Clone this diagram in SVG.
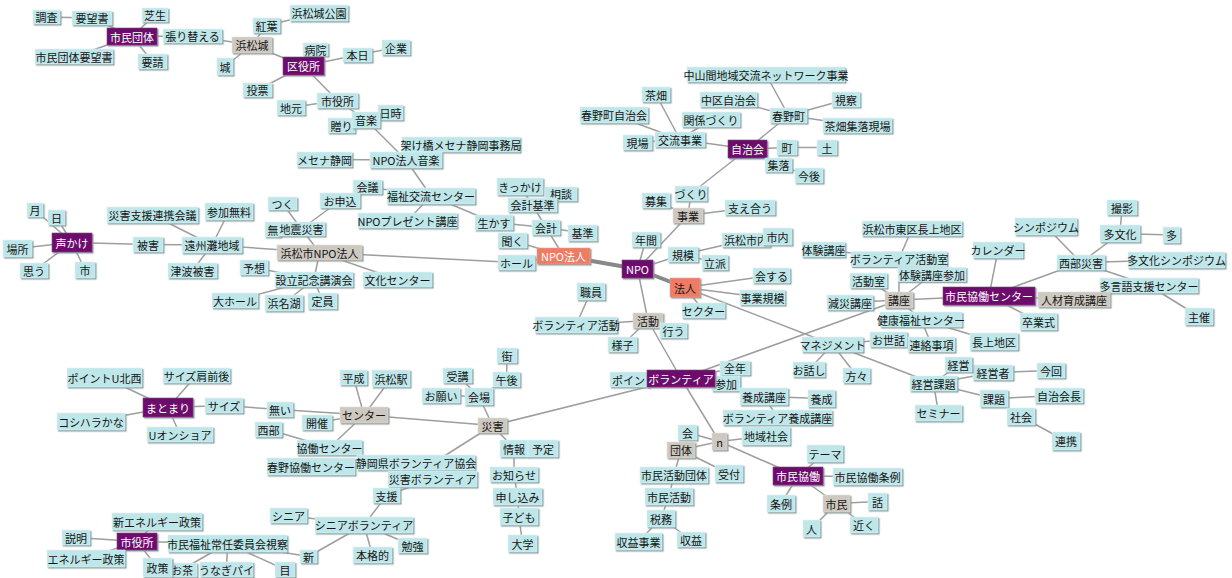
<svg xmlns="http://www.w3.org/2000/svg" width="1232" height="578" viewBox="0 0 1232 578">
<defs>
<filter id="sh" x="-10%" y="-20%" width="130%" height="160%"><feDropShadow dx="1.3" dy="1.3" stdDeviation="0.3" flood-color="#8a9899"/></filter>
<style>
rect{filter:url(#sh);stroke:#d8f2f3;stroke-width:0.6}
.c rect{fill:#bfe7ea}
.p rect{fill:#6c0d6c;stroke:#8a3a8a}
.s rect{fill:#ec7c64;stroke:#f4a090}
.g rect{fill:#cdc8c0;stroke:#e2ded8}
text{font-family:"Noto Sans CJK JP","Noto Sans CJK SC",sans-serif;font-size:11px;text-anchor:middle;dominant-baseline:central;fill:#151515}
.p text{fill:#ffffff}
.s text.w{fill:#ffffff}
#edges line{stroke:#9e9e9e;stroke-width:1.5}
#edges line.t{stroke:#888888;stroke-width:4}
</style>
</defs>
<rect x="0" y="0" width="1232" height="578" fill="#ffffff" style="filter:none;stroke:none"/>
<g id="edges">
<line x1="46.5" y1="17" x2="92" y2="18"/>
<line x1="92" y1="18" x2="132" y2="36.5"/>
<line x1="155" y1="15" x2="132" y2="36.5"/>
<line x1="132" y1="36.5" x2="192.5" y2="36"/>
<line x1="132" y1="36.5" x2="74" y2="56.5"/>
<line x1="132" y1="36.5" x2="152.5" y2="61.5"/>
<line x1="192.5" y1="36" x2="252" y2="45"/>
<line x1="252" y1="45" x2="266.5" y2="25.5"/>
<line x1="266.5" y1="25.5" x2="319" y2="13"/>
<line x1="252" y1="45" x2="225" y2="66.5"/>
<line x1="252" y1="45" x2="303.5" y2="66"/>
<line x1="303.5" y1="66" x2="315.5" y2="49.5"/>
<line x1="303.5" y1="66" x2="357.5" y2="55"/>
<line x1="357.5" y1="55" x2="396" y2="47.5"/>
<line x1="303.5" y1="66" x2="257.5" y2="90"/>
<line x1="303.5" y1="66" x2="337.5" y2="100.5"/>
<line x1="291" y1="107.5" x2="337.5" y2="100.5"/>
<line x1="337.5" y1="100.5" x2="366" y2="120"/>
<line x1="390.5" y1="112.5" x2="366" y2="120"/>
<line x1="341.5" y1="125.5" x2="366" y2="120"/>
<line x1="366" y1="120" x2="406" y2="160"/>
<line x1="461" y1="144.5" x2="406" y2="160"/>
<line x1="324.5" y1="159.5" x2="406" y2="160"/>
<line x1="406" y1="160" x2="431" y2="196"/>
<line x1="367.5" y1="187" x2="431" y2="196"/>
<line x1="340" y1="200.5" x2="301.5" y2="229"/>
<line x1="431" y1="196" x2="407.5" y2="220.5"/>
<line x1="431" y1="196" x2="494" y2="222.5"/>
<line x1="494" y1="222.5" x2="546" y2="227.5"/>
<line x1="520" y1="186.5" x2="532.5" y2="205"/>
<line x1="561" y1="194" x2="532.5" y2="205"/>
<line x1="532.5" y1="205" x2="546" y2="227.5"/>
<line x1="582.5" y1="233" x2="546" y2="227.5"/>
<line x1="546" y1="227.5" x2="563.5" y2="256"/>
<line x1="512.5" y1="240.5" x2="563.5" y2="256"/>
<line x1="516.5" y1="262.5" x2="563.5" y2="256"/>
<line x1="319.5" y1="252.5" x2="516.5" y2="262.5"/>
<line x1="319.5" y1="252.5" x2="301.5" y2="229"/>
<line x1="282.5" y1="203.5" x2="301.5" y2="229"/>
<line x1="319.5" y1="252.5" x2="212" y2="245"/>
<line x1="319.5" y1="252.5" x2="314" y2="279.5"/>
<line x1="319.5" y1="252.5" x2="397.5" y2="279.5"/>
<line x1="314" y1="279.5" x2="254" y2="267.5"/>
<line x1="314" y1="279.5" x2="235" y2="300.5"/>
<line x1="314" y1="279.5" x2="284" y2="303"/>
<line x1="314" y1="279.5" x2="322.5" y2="301"/>
<line x1="212" y1="245" x2="148" y2="244.5"/>
<line x1="212" y1="245" x2="152.5" y2="215"/>
<line x1="212" y1="245" x2="229" y2="211.5"/>
<line x1="212" y1="245" x2="192.5" y2="270.5"/>
<line x1="148" y1="244.5" x2="72" y2="242.5"/>
<line x1="72" y1="242.5" x2="35" y2="210"/>
<line x1="72" y1="242.5" x2="56.5" y2="217.5"/>
<line x1="72" y1="242.5" x2="17.5" y2="248.5"/>
<line x1="72" y1="242.5" x2="34" y2="270.5"/>
<line x1="72" y1="242.5" x2="85" y2="270"/>
<line class="t" x1="563.5" y1="256" x2="637.5" y2="269"/>
<line class="t" x1="637.5" y1="269" x2="685" y2="287.5"/>
<line x1="637.5" y1="269" x2="683" y2="254.5"/>
<line x1="637.5" y1="269" x2="646" y2="239.5"/>
<line x1="637.5" y1="269" x2="688" y2="215.5"/>
<line x1="688" y1="215.5" x2="691" y2="193.5"/>
<line x1="688" y1="215.5" x2="656" y2="200.5"/>
<line x1="688" y1="215.5" x2="750" y2="207.5"/>
<line x1="691" y1="193.5" x2="747.5" y2="149"/>
<line x1="747.5" y1="149" x2="680" y2="139.5"/>
<line x1="747.5" y1="149" x2="788.5" y2="115.5"/>
<line x1="747.5" y1="149" x2="787" y2="147.5"/>
<line x1="747.5" y1="149" x2="778.5" y2="165"/>
<line x1="787" y1="147.5" x2="827" y2="147.5"/>
<line x1="778.5" y1="165" x2="809" y2="175.5"/>
<line x1="788.5" y1="115.5" x2="766" y2="74.5"/>
<line x1="788.5" y1="115.5" x2="728.5" y2="99.5"/>
<line x1="788.5" y1="115.5" x2="846" y2="99.5"/>
<line x1="788.5" y1="115.5" x2="857.5" y2="125.5"/>
<line x1="680" y1="139.5" x2="656" y2="94.5"/>
<line x1="680" y1="139.5" x2="614" y2="115"/>
<line x1="680" y1="139.5" x2="711" y2="119.5"/>
<line x1="680" y1="139.5" x2="637.5" y2="142.5"/>
<line x1="683" y1="254.5" x2="746" y2="240"/>
<line x1="683" y1="254.5" x2="715" y2="262.5"/>
<line x1="685" y1="287.5" x2="771.5" y2="275.5"/>
<line x1="685" y1="287.5" x2="762.5" y2="297.5"/>
<line x1="685" y1="287.5" x2="703.5" y2="310.5"/>
<line x1="685" y1="287.5" x2="832.5" y2="344.5"/>
<line x1="637.5" y1="269" x2="648" y2="320.5"/>
<line x1="648" y1="320.5" x2="681" y2="378.5"/>
<line x1="648" y1="320.5" x2="576" y2="325"/>
<line x1="591" y1="291.5" x2="576" y2="325"/>
<line x1="648" y1="320.5" x2="622.5" y2="344.5"/>
<line x1="648" y1="320.5" x2="673.5" y2="330.5"/>
<line x1="681" y1="378.5" x2="629" y2="379.5"/>
<line x1="681" y1="378.5" x2="735" y2="368"/>
<line x1="681" y1="378.5" x2="726" y2="384"/>
<line x1="681" y1="378.5" x2="492.5" y2="425.5"/>
<line x1="681" y1="378.5" x2="899" y2="300"/>
<line x1="681" y1="378.5" x2="719.5" y2="441.5"/>
<line x1="832.5" y1="344.5" x2="888.5" y2="339.5"/>
<line x1="832.5" y1="344.5" x2="809" y2="369.5"/>
<line x1="832.5" y1="344.5" x2="856.5" y2="375.5"/>
<line x1="832.5" y1="344.5" x2="933.5" y2="383.5"/>
<line x1="933.5" y1="383.5" x2="958.5" y2="364.5"/>
<line x1="933.5" y1="383.5" x2="993" y2="372.5"/>
<line x1="993" y1="372.5" x2="1051" y2="370.5"/>
<line x1="933.5" y1="383.5" x2="994" y2="398.5"/>
<line x1="933.5" y1="383.5" x2="938.5" y2="413"/>
<line x1="994" y1="398.5" x2="1059" y2="395.5"/>
<line x1="994" y1="398.5" x2="1021" y2="416.5"/>
<line x1="1021" y1="416.5" x2="1066" y2="441"/>
<line x1="899" y1="300" x2="850" y2="302.5"/>
<line x1="899" y1="300" x2="868.5" y2="280.5"/>
<line x1="899" y1="300" x2="899" y2="259"/>
<line x1="899" y1="300" x2="932" y2="274.5"/>
<line x1="899" y1="300" x2="921" y2="319.5"/>
<line x1="899" y1="300" x2="989" y2="296"/>
<line x1="899" y1="259" x2="912" y2="228.5"/>
<line x1="899" y1="259" x2="823.5" y2="249.5"/>
<line x1="921" y1="319.5" x2="994" y2="341.5"/>
<line x1="921" y1="319.5" x2="931.5" y2="344.5"/>
<line x1="989" y1="296" x2="998" y2="250"/>
<line x1="989" y1="296" x2="1081" y2="262.5"/>
<line x1="989" y1="296" x2="1074" y2="299.5"/>
<line x1="989" y1="296" x2="1038.5" y2="321.5"/>
<line x1="1081" y1="262.5" x2="1046" y2="226.5"/>
<line x1="1081" y1="262.5" x2="1120" y2="233.5"/>
<line x1="1081" y1="262.5" x2="1176.5" y2="260"/>
<line x1="1081" y1="262.5" x2="1149" y2="285.5"/>
<line x1="1149" y1="285.5" x2="1199" y2="316.5"/>
<line x1="1120" y1="233.5" x2="1122" y2="207.5"/>
<line x1="1120" y1="233.5" x2="1171.5" y2="235"/>
<line x1="492.5" y1="425.5" x2="364" y2="415"/>
<line x1="492.5" y1="425.5" x2="479" y2="396.5"/>
<line x1="492.5" y1="425.5" x2="438" y2="460"/>
<line x1="492.5" y1="425.5" x2="514" y2="448.5"/>
<line x1="479" y1="396.5" x2="441" y2="395.5"/>
<line x1="479" y1="396.5" x2="457.5" y2="375.5"/>
<line x1="479" y1="396.5" x2="506.5" y2="379.5"/>
<line x1="506.5" y1="379.5" x2="507" y2="355.5"/>
<line x1="514" y1="448.5" x2="543" y2="448.5"/>
<line x1="514" y1="448.5" x2="514" y2="474.5"/>
<line x1="514" y1="474.5" x2="517.5" y2="496.5"/>
<line x1="517.5" y1="496.5" x2="519" y2="516.5"/>
<line x1="519" y1="516.5" x2="522.5" y2="543.5"/>
<line x1="364" y1="415" x2="353.5" y2="377.5"/>
<line x1="364" y1="415" x2="391" y2="378.5"/>
<line x1="364" y1="415" x2="317" y2="422.5"/>
<line x1="364" y1="415" x2="329.5" y2="447.5"/>
<line x1="364" y1="415" x2="280" y2="409.5"/>
<line x1="280" y1="409.5" x2="224" y2="405.5"/>
<line x1="224" y1="405.5" x2="168" y2="407.5"/>
<line x1="168" y1="407.5" x2="104.5" y2="377.5"/>
<line x1="168" y1="407.5" x2="196.5" y2="375.5"/>
<line x1="168" y1="407.5" x2="91" y2="421.5"/>
<line x1="168" y1="407.5" x2="180" y2="434.5"/>
<line x1="268.5" y1="429.5" x2="329.5" y2="447.5"/>
<line x1="432.5" y1="479" x2="386.5" y2="495.5"/>
<line x1="386.5" y1="495.5" x2="364" y2="525"/>
<line x1="364" y1="525" x2="288.5" y2="515.5"/>
<line x1="364" y1="525" x2="308.5" y2="556.5"/>
<line x1="364" y1="525" x2="372.5" y2="555"/>
<line x1="364" y1="525" x2="412.5" y2="545.5"/>
<line x1="308.5" y1="556.5" x2="227.5" y2="543.5"/>
<line x1="227.5" y1="543.5" x2="137" y2="541.5"/>
<line x1="227.5" y1="543.5" x2="181" y2="570"/>
<line x1="227.5" y1="543.5" x2="226.5" y2="569.5"/>
<line x1="227.5" y1="543.5" x2="285" y2="569.5"/>
<line x1="137" y1="541.5" x2="157" y2="521.5"/>
<line x1="137" y1="541.5" x2="76" y2="537.5"/>
<line x1="137" y1="541.5" x2="86" y2="558.5"/>
<line x1="137" y1="541.5" x2="157.5" y2="567.5"/>
<line x1="719.5" y1="441.5" x2="687.5" y2="432.5"/>
<line x1="719.5" y1="441.5" x2="681" y2="450"/>
<line x1="719.5" y1="441.5" x2="766" y2="436"/>
<line x1="719.5" y1="441.5" x2="798" y2="476"/>
<line x1="681" y1="450" x2="674" y2="475"/>
<line x1="681" y1="450" x2="729" y2="473.5"/>
<line x1="674" y1="475" x2="669" y2="496.5"/>
<line x1="669" y1="496.5" x2="661" y2="518.5"/>
<line x1="661" y1="518.5" x2="638.5" y2="541.5"/>
<line x1="661" y1="518.5" x2="691" y2="539.5"/>
<line x1="798" y1="476" x2="825" y2="453.5"/>
<line x1="798" y1="476" x2="867.5" y2="476.5"/>
<line x1="798" y1="476" x2="781" y2="503.5"/>
<line x1="798" y1="476" x2="836.5" y2="503.5"/>
<line x1="836.5" y1="503.5" x2="877.5" y2="501.5"/>
<line x1="836.5" y1="503.5" x2="811.5" y2="528.5"/>
<line x1="836.5" y1="503.5" x2="864" y2="525"/>
<line x1="764" y1="396.5" x2="821.5" y2="398.5"/>
<line x1="764" y1="396.5" x2="777.5" y2="417.5"/>
</g>
<g id="n1" class="c"><rect x="33" y="10" width="27" height="14"/><text x="46.5" y="17">調査</text></g>
<g id="n2" class="c"><rect x="72" y="11" width="40" height="14"/><text x="92" y="18">要望書</text></g>
<g id="n3" class="c"><rect x="142" y="8" width="26" height="14"/><text x="155" y="15">芝生</text></g>
<g id="n4" class="p"><rect x="107" y="28" width="50" height="17"/><text x="132" y="36.5">市民団体</text></g>
<g id="n5" class="c"><rect x="163" y="29" width="59" height="14"/><text x="192.5" y="36">張り替える</text></g>
<g id="n6" class="c"><rect x="35" y="49" width="78" height="15"/><text x="74" y="56.5">市民団体要望書</text></g>
<g id="n7" class="c"><rect x="138" y="54" width="29" height="15"/><text x="152.5" y="61.5">要請</text></g>
<g id="n8" class="g"><rect x="232" y="37" width="40" height="16"/><text x="252" y="45">浜松城</text></g>
<g id="n9" class="c"><rect x="253" y="18" width="27" height="15"/><text x="266.5" y="25.5">紅葉</text></g>
<g id="n10" class="c"><rect x="290" y="5" width="58" height="16"/><text x="319" y="13">浜松城公園</text></g>
<g id="n11" class="c"><rect x="217" y="58" width="16" height="17"/><text x="225" y="66.5">城</text></g>
<g id="n13" class="c"><rect x="303" y="43" width="25" height="13"/><text x="315.5" y="49.5">病院</text></g>
<g id="n12" class="p"><rect x="283" y="57" width="41" height="18"/><text x="303.5" y="66">区役所</text></g>
<g id="n14" class="c"><rect x="343" y="48" width="29" height="14"/><text x="357.5" y="55">本日</text></g>
<g id="n15" class="c"><rect x="382" y="40" width="28" height="15"/><text x="396" y="47.5">企業</text></g>
<g id="n16" class="c"><rect x="243" y="83" width="29" height="14"/><text x="257.5" y="90">投票</text></g>
<g id="n17" class="c"><rect x="277" y="100" width="28" height="15"/><text x="291" y="107.5">地元</text></g>
<g id="n18" class="c"><rect x="317" y="93" width="41" height="15"/><text x="337.5" y="100.5">市役所</text></g>
<g id="n19" class="c"><rect x="378" y="105" width="25" height="15"/><text x="390.5" y="112.5">日時</text></g>
<g id="n21" class="c"><rect x="328" y="118" width="27" height="15"/><text x="341.5" y="125.5">贈り</text></g>
<g id="n20" class="c"><rect x="352" y="112" width="28" height="16"/><text x="366" y="120">音楽</text></g>
<g id="n22" class="c"><rect x="402" y="137" width="118" height="15"/><text x="461" y="144.5">架け橋メセナ静岡事務局</text></g>
<g id="n23" class="c"><rect x="297" y="152" width="55" height="15"/><text x="324.5" y="159.5">メセナ静岡</text></g>
<g id="n24" class="c"><rect x="370" y="152" width="72" height="16"/><text x="406" y="160">NPO法人音楽</text></g>
<g id="n25" class="c"><rect x="353" y="180" width="29" height="14"/><text x="367.5" y="187">会議</text></g>
<g id="n26" class="c"><rect x="387" y="188" width="88" height="16"/><text x="431" y="196">福祉交流センター</text></g>
<g id="n27" class="c"><rect x="497" y="178" width="46" height="17"/><text x="520" y="186.5">きっかけ</text></g>
<g id="n28" class="c"><rect x="545" y="187" width="32" height="14"/><text x="561" y="194">相談</text></g>
<g id="n29" class="c"><rect x="508" y="198" width="49" height="14"/><text x="532.5" y="205">会計基準</text></g>
<g id="n30" class="c"><rect x="320" y="193" width="40" height="15"/><text x="340" y="200.5">お申込</text></g>
<g id="n31" class="c"><rect x="358" y="213" width="99" height="15"/><text x="407.5" y="220.5">NPOプレゼント講座</text></g>
<g id="n32" class="c"><rect x="475" y="215" width="38" height="15"/><text x="494" y="222.5">生かす</text></g>
<g id="n33" class="c"><rect x="532" y="220" width="28" height="15"/><text x="546" y="227.5">会計</text></g>
<g id="n34" class="c"><rect x="568" y="225" width="29" height="16"/><text x="582.5" y="233">基準</text></g>
<g id="n35" class="c"><rect x="498" y="233" width="29" height="15"/><text x="512.5" y="240.5">聞く</text></g>
<g id="n36" class="c"><rect x="498" y="255" width="37" height="15"/><text x="516.5" y="262.5">ホール</text></g>
<g id="n37" class="s"><rect x="537" y="248" width="53" height="16"/><text class="w" x="563.5" y="256">NPO法人</text></g>
<g id="n38" class="c"><rect x="268" y="197" width="29" height="13"/><text x="282.5" y="203.5">つく</text></g>
<g id="n39" class="c"><rect x="265" y="222" width="16" height="15"/><text x="273" y="229.5">無</text></g>
<g id="n40" class="c"><rect x="278" y="222" width="47" height="14"/><text x="301.5" y="229">地震災害</text></g>
<g id="n41" class="g"><rect x="277" y="245" width="85" height="15"/><text x="319.5" y="252.5">浜松市NPO法人</text></g>
<g id="n42" class="c"><rect x="240" y="260" width="28" height="15"/><text x="254" y="267.5">予想</text></g>
<g id="n43" class="c"><rect x="275" y="272" width="78" height="15"/><text x="314" y="279.5">設立記念講演会</text></g>
<g id="n44" class="c"><rect x="212" y="293" width="46" height="15"/><text x="235" y="300.5">大ホール</text></g>
<g id="n45" class="c"><rect x="265" y="295" width="38" height="16"/><text x="284" y="303">浜名湖</text></g>
<g id="n46" class="c"><rect x="308" y="293" width="29" height="16"/><text x="322.5" y="301">定員</text></g>
<g id="n47" class="c"><rect x="363" y="272" width="69" height="15"/><text x="397.5" y="279.5">文化センター</text></g>
<g id="n48" class="c"><rect x="27" y="203" width="16" height="14"/><text x="35" y="210">月</text></g>
<g id="n49" class="c"><rect x="48" y="210" width="17" height="15"/><text x="56.5" y="217.5">日</text></g>
<g id="n50" class="p"><rect x="52" y="233" width="40" height="19"/><text x="72" y="242.5">声かけ</text></g>
<g id="n51" class="c"><rect x="3" y="240" width="29" height="17"/><text x="17.5" y="248.5">場所</text></g>
<g id="n52" class="c"><rect x="20" y="263" width="28" height="15"/><text x="34" y="270.5">思う</text></g>
<g id="n53" class="c"><rect x="75" y="262" width="20" height="16"/><text x="85" y="270">市</text></g>
<g id="n54" class="c"><rect x="107" y="207" width="91" height="16"/><text x="152.5" y="215">災害支援連携会議</text></g>
<g id="n55" class="c"><rect x="205" y="203" width="48" height="17"/><text x="229" y="211.5">参加無料</text></g>
<g id="n56" class="c"><rect x="133" y="237" width="30" height="15"/><text x="148" y="244.5">被害</text></g>
<g id="n57" class="c"><rect x="182" y="237" width="60" height="16"/><text x="212" y="245">遠州灘地域</text></g>
<g id="n58" class="c"><rect x="168" y="263" width="49" height="15"/><text x="192.5" y="270.5">津波被害</text></g>
<g id="n59" class="c"><rect x="687" y="67" width="158" height="15"/><text x="766" y="74.5">中山間地域交流ネットワーク事業</text></g>
<g id="n60" class="c"><rect x="642" y="87" width="28" height="15"/><text x="656" y="94.5">茶畑</text></g>
<g id="n61" class="c"><rect x="700" y="92" width="57" height="15"/><text x="728.5" y="99.5">中区自治会</text></g>
<g id="n62" class="c"><rect x="832" y="92" width="28" height="15"/><text x="846" y="99.5">視察</text></g>
<g id="n63" class="c"><rect x="580" y="107" width="68" height="16"/><text x="614" y="115">春野町自治会</text></g>
<g id="n64" class="c"><rect x="682" y="112" width="58" height="15"/><text x="711" y="119.5">関係づくり</text></g>
<g id="n65" class="c"><rect x="770" y="108" width="37" height="15"/><text x="788.5" y="115.5">春野町</text></g>
<g id="n66" class="c"><rect x="823" y="118" width="69" height="15"/><text x="857.5" y="125.5">茶畑集落現場</text></g>
<g id="n67" class="c"><rect x="623" y="135" width="29" height="15"/><text x="637.5" y="142.5">現場</text></g>
<g id="n68" class="c"><rect x="655" y="132" width="50" height="15"/><text x="680" y="139.5">交流事業</text></g>
<g id="n69" class="p"><rect x="728" y="140" width="39" height="18"/><text x="747.5" y="149">自治会</text></g>
<g id="n70" class="c"><rect x="777" y="140" width="20" height="15"/><text x="787" y="147.5">町</text></g>
<g id="n71" class="c"><rect x="817" y="140" width="20" height="15"/><text x="827" y="147.5">土</text></g>
<g id="n72" class="c"><rect x="765" y="158" width="27" height="14"/><text x="778.5" y="165">集落</text></g>
<g id="n73" class="c"><rect x="795" y="168" width="28" height="15"/><text x="809" y="175.5">今後</text></g>
<g id="n74" class="c"><rect x="675" y="186" width="32" height="15"/><text x="691" y="193.5">づくり</text></g>
<g id="n75" class="c"><rect x="642" y="193" width="28" height="15"/><text x="656" y="200.5">募集</text></g>
<g id="n76" class="g"><rect x="673" y="208" width="30" height="15"/><text x="688" y="215.5">事業</text></g>
<g id="n77" class="c"><rect x="725" y="200" width="50" height="15"/><text x="750" y="207.5">支え合う</text></g>
<g id="n78" class="c"><rect x="632" y="232" width="28" height="15"/><text x="646" y="239.5">年間</text></g>
<g id="n79" class="c"><rect x="668" y="247" width="30" height="15"/><text x="683" y="254.5">規模</text></g>
<g id="n80" class="c"><rect x="722" y="233" width="48" height="14"/><text x="746" y="240">浜松市内</text></g>
<g id="n81" class="c"><rect x="763" y="228" width="29" height="17"/><text x="777.5" y="236.5">市内</text></g>
<g id="n82" class="c"><rect x="702" y="255" width="26" height="15"/><text x="715" y="262.5">立派</text></g>
<g id="n83" class="p"><rect x="622" y="260" width="31" height="18"/><text x="637.5" y="269">NPO</text></g>
<g id="n84" class="s"><rect x="670" y="278" width="30" height="19"/><text x="685" y="287.5">法人</text></g>
<g id="n85" class="c"><rect x="753" y="268" width="37" height="15"/><text x="771.5" y="275.5">会する</text></g>
<g id="n86" class="c"><rect x="740" y="290" width="45" height="15"/><text x="762.5" y="297.5">事業規模</text></g>
<g id="n87" class="c"><rect x="682" y="303" width="43" height="15"/><text x="703.5" y="310.5">セクター</text></g>
<g id="n88" class="g"><rect x="633" y="313" width="30" height="15"/><text x="648" y="320.5">活動</text></g>
<g id="n89" class="c"><rect x="660" y="323" width="27" height="15"/><text x="673.5" y="330.5">行う</text></g>
<g id="n90" class="c"><rect x="608" y="337" width="29" height="15"/><text x="622.5" y="344.5">様子</text></g>
<g id="n91" class="c"><rect x="535" y="317" width="82" height="16"/><text x="576" y="325">ボランティア活動</text></g>
<g id="n92" class="c"><rect x="577" y="283" width="28" height="17"/><text x="591" y="291.5">職員</text></g>
<g id="n93" class="c"><rect x="802" y="337" width="61" height="15"/><text x="832.5" y="344.5">マネジメント</text></g>
<g id="n94" class="c"><rect x="870" y="332" width="37" height="15"/><text x="888.5" y="339.5">お世話</text></g>
<g id="n95" class="c"><rect x="793" y="362" width="32" height="15"/><text x="809" y="369.5">お話し</text></g>
<g id="n96" class="c"><rect x="843" y="368" width="27" height="15"/><text x="856.5" y="375.5">方々</text></g>
<g id="n97" class="c"><rect x="610" y="372" width="40" height="15"/><text x="628.5" y="379.5">ポイン</text></g>
<g id="n99" class="c"><rect x="720" y="361" width="30" height="14"/><text x="735" y="368">全年</text></g>
<g id="n100" class="c"><rect x="712" y="376" width="28" height="15"/><text x="726" y="384">参加</text></g>
<g id="n98" class="p"><rect x="647" y="370" width="68" height="17"/><text x="681" y="378.5">ボランティア</text></g>
<g id="n101" class="c"><rect x="1107" y="200" width="30" height="15"/><text x="1122" y="207.5">撮影</text></g>
<g id="n102" class="c"><rect x="1015" y="218" width="62" height="17"/><text x="1046" y="226.5">シンポジウム</text></g>
<g id="n103" class="c"><rect x="1100" y="225" width="40" height="17"/><text x="1120" y="233.5">多文化</text></g>
<g id="n104" class="c"><rect x="1163" y="227" width="17" height="16"/><text x="1171.5" y="235">多</text></g>
<g id="n105" class="c"><rect x="973" y="242" width="50" height="16"/><text x="998" y="250">カレンダー</text></g>
<g id="n106" class="c"><rect x="1057" y="255" width="48" height="15"/><text x="1081" y="262.5">西部災害</text></g>
<g id="n107" class="c"><rect x="1128" y="252" width="97" height="16"/><text x="1176.5" y="260">多文化シンポジウム</text></g>
<g id="n108" class="c"><rect x="1100" y="278" width="98" height="15"/><text x="1149" y="285.5">多言語支援センター</text></g>
<g id="n110" class="g"><rect x="1038" y="292" width="72" height="15"/><text x="1074" y="299.5">人材育成講座</text></g>
<g id="n109" class="p"><rect x="943" y="287" width="92" height="18"/><text x="989" y="296">市民協働センター</text></g>
<g id="n111" class="c"><rect x="1020" y="313" width="37" height="17"/><text x="1038.5" y="321.5">卒業式</text></g>
<g id="n112" class="c"><rect x="1185" y="308" width="28" height="17"/><text x="1199" y="316.5">主催</text></g>
<g id="n113" class="c"><rect x="970" y="333" width="48" height="17"/><text x="994" y="341.5">長上地区</text></g>
<g id="n114" class="c"><rect x="973" y="365" width="40" height="15"/><text x="993" y="372.5">経営者</text></g>
<g id="n115" class="c"><rect x="1037" y="363" width="28" height="15"/><text x="1051" y="370.5">今回</text></g>
<g id="n116" class="c"><rect x="945" y="357" width="27" height="15"/><text x="958.5" y="364.5">経営</text></g>
<g id="n117" class="c"><rect x="910" y="376" width="47" height="15"/><text x="933.5" y="383.5">経営課題</text></g>
<g id="n118" class="c"><rect x="980" y="390" width="28" height="17"/><text x="994" y="398.5">課題</text></g>
<g id="n119" class="c"><rect x="1035" y="388" width="48" height="15"/><text x="1059" y="395.5">自治会長</text></g>
<g id="n120" class="c"><rect x="915" y="405" width="47" height="16"/><text x="938.5" y="413">セミナー</text></g>
<g id="n121" class="c"><rect x="1007" y="408" width="28" height="17"/><text x="1021" y="416.5">社会</text></g>
<g id="n122" class="c"><rect x="1052" y="432" width="28" height="18"/><text x="1066" y="441">連携</text></g>
<g id="n123" class="c"><rect x="862" y="221" width="100" height="15"/><text x="912" y="228.5">浜松市東区長上地区</text></g>
<g id="n124" class="c"><rect x="802" y="242" width="43" height="15"/><text x="823.5" y="249.5">体験講座</text></g>
<g id="n125" class="c"><rect x="851" y="251.5" width="96" height="15"/><text x="899" y="259">ボランティア活動室</text></g>
<g id="n126" class="c"><rect x="898" y="267.5" width="68" height="14"/><text x="932" y="274.5">体験講座参加</text></g>
<g id="n127" class="c"><rect x="850" y="273" width="37" height="15"/><text x="868.5" y="280.5">活動室</text></g>
<g id="n128" class="c"><rect x="827" y="295" width="46" height="15"/><text x="850" y="302.5">減災講座</text></g>
<g id="n129" class="g"><rect x="885" y="292" width="28" height="16"/><text x="899" y="300">講座</text></g>
<g id="n130" class="c"><rect x="880" y="312" width="82" height="15"/><text x="921" y="319.5">健康福祉センター</text></g>
<g id="n131" class="c"><rect x="908" y="337" width="47" height="15"/><text x="931.5" y="344.5">連絡事項</text></g>
<g id="n132" class="c"><rect x="67" y="368" width="75" height="19"/><text x="104.5" y="377.5">ポイントU北西</text></g>
<g id="n133" class="c"><rect x="163" y="368" width="67" height="15"/><text x="196.5" y="375.5">サイズ肩前後</text></g>
<g id="n134" class="p"><rect x="143" y="398" width="50" height="19"/><text x="168" y="407.5">まとまり</text></g>
<g id="n135" class="c"><rect x="205" y="398" width="38" height="15"/><text x="224" y="405.5">サイズ</text></g>
<g id="n136" class="c"><rect x="267" y="402" width="26" height="15"/><text x="280" y="409.5">無い</text></g>
<g id="n137" class="c"><rect x="255" y="422" width="27" height="15"/><text x="268.5" y="429.5">西部</text></g>
<g id="n138" class="c"><rect x="57" y="413" width="68" height="17"/><text x="91" y="421.5">コシハラかな</text></g>
<g id="n139" class="c"><rect x="147" y="427" width="66" height="15"/><text x="180" y="434.5">Uオンショア</text></g>
<g id="n140" class="c"><rect x="340" y="370" width="27" height="15"/><text x="353.5" y="377.5">平成</text></g>
<g id="n141" class="c"><rect x="372" y="370" width="38" height="17"/><text x="391" y="378.5">浜松駅</text></g>
<g id="n142" class="c"><rect x="443" y="368" width="29" height="15"/><text x="457.5" y="375.5">受講</text></g>
<g id="n143" class="c"><rect x="493" y="372" width="27" height="15"/><text x="506.5" y="379.5">午後</text></g>
<g id="n144" class="c"><rect x="497" y="348" width="20" height="15"/><text x="507" y="355.5">街</text></g>
<g id="n145" class="c"><rect x="422" y="388" width="38" height="15"/><text x="441" y="395.5">お願い</text></g>
<g id="n146" class="c"><rect x="465" y="388" width="28" height="17"/><text x="479" y="396.5">会場</text></g>
<g id="n147" class="g"><rect x="340" y="407" width="48" height="16"/><text x="364" y="415">センター</text></g>
<g id="n148" class="c"><rect x="302" y="415" width="30" height="15"/><text x="317" y="422.5">開催</text></g>
<g id="n149" class="g"><rect x="478" y="418" width="29" height="15"/><text x="492.5" y="425.5">災害</text></g>
<g id="n150" class="c"><rect x="297" y="440" width="65" height="15"/><text x="329.5" y="447.5">協働センター</text></g>
<g id="n151" class="c"><rect x="267" y="458" width="88" height="17"/><text x="311" y="466.5">春野協働センター</text></g>
<g id="n152" class="c"><rect x="357" y="455" width="118" height="15"/><text x="416" y="462.5">静岡県ボランティア協会</text></g>
<g id="n153" class="c"><rect x="388" y="471" width="89" height="16"/><text x="432.5" y="479">災害ボランティア</text></g>
<g id="n154" class="c"><rect x="500" y="440" width="28" height="17"/><text x="514" y="448.5">情報</text></g>
<g id="n155" class="c"><rect x="528" y="440" width="30" height="17"/><text x="543" y="448.5">予定</text></g>
<g id="n156" class="c"><rect x="490" y="467" width="48" height="15"/><text x="514" y="474.5">お知らせ</text></g>
<g id="n157" class="c"><rect x="493" y="488" width="49" height="17"/><text x="517.5" y="496.5">申し込み</text></g>
<g id="n158" class="c"><rect x="500" y="508" width="38" height="17"/><text x="519" y="516.5">子ども</text></g>
<g id="n159" class="c"><rect x="508" y="535" width="29" height="17"/><text x="522.5" y="543.5">大学</text></g>
<g id="n160" class="c"><rect x="373" y="488" width="27" height="15"/><text x="386.5" y="495.5">支援</text></g>
<g id="n161" class="c"><rect x="315" y="517" width="98" height="16"/><text x="364" y="525">シニアボランティア</text></g>
<g id="n162" class="c"><rect x="270" y="508" width="37" height="15"/><text x="288.5" y="515.5">シニア</text></g>
<g id="n163" class="c"><rect x="300" y="550" width="17" height="13"/><text x="308.5" y="556.5">新</text></g>
<g id="n164" class="c"><rect x="353" y="547" width="39" height="16"/><text x="372.5" y="555">本格的</text></g>
<g id="n165" class="c"><rect x="398" y="538" width="29" height="15"/><text x="412.5" y="545.5">勉強</text></g>
<g id="n166" class="c"><rect x="112" y="513" width="90" height="17"/><text x="157" y="521.5">新エネルギー政策</text></g>
<g id="n167" class="c"><rect x="62" y="530" width="28" height="15"/><text x="76" y="537.5">説明</text></g>
<g id="n168" class="p"><rect x="117" y="533" width="40" height="17"/><text x="137" y="541.5">市役所</text></g>
<g id="n169" class="c"><rect x="168" y="535" width="119" height="17"/><text x="227.5" y="543.5">市民福祉常任委員会視察</text></g>
<g id="n170" class="c"><rect x="47" y="550" width="78" height="17"/><text x="86" y="558.5">エネルギー政策</text></g>
<g id="n171" class="c"><rect x="167" y="563" width="30" height="14"/><text x="182" y="570">お茶</text></g>
<g id="n172" class="c"><rect x="143" y="558" width="29" height="19"/><text x="157.5" y="567.5">政策</text></g>
<g id="n173" class="c"><rect x="200" y="562" width="53" height="15"/><text x="226.5" y="569.5">うなぎパイ</text></g>
<g id="n174" class="c"><rect x="275" y="562" width="20" height="15"/><text x="285" y="569.5">目</text></g>
<g id="n175" class="c"><rect x="740" y="388" width="48" height="17"/><text x="764" y="396.5">養成講座</text></g>
<g id="n176" class="c"><rect x="808" y="390" width="27" height="17"/><text x="821.5" y="398.5">養成</text></g>
<g id="n177" class="c"><rect x="723" y="410" width="109" height="15"/><text x="777.5" y="417.5">ボランティア養成講座</text></g>
<g id="n178" class="c"><rect x="678" y="425" width="19" height="15"/><text x="687.5" y="432.5">会</text></g>
<g id="n179" class="g"><rect x="712" y="433" width="15" height="17"/><text x="719.5" y="441.5">n</text></g>
<g id="n180" class="c"><rect x="742" y="427" width="48" height="18"/><text x="766" y="436">地域社会</text></g>
<g id="n181" class="g"><rect x="667" y="442" width="28" height="16"/><text x="681" y="450">団体</text></g>
<g id="n182" class="c"><rect x="807" y="445" width="36" height="17"/><text x="825" y="453.5">テーマ</text></g>
<g id="n183" class="p"><rect x="773" y="467" width="50" height="18"/><text x="798" y="476">市民協働</text></g>
<g id="n184" class="c"><rect x="833" y="468" width="69" height="17"/><text x="867.5" y="476.5">市民協働条例</text></g>
<g id="n185" class="c"><rect x="640" y="467" width="68" height="16"/><text x="674" y="475">市民活動団体</text></g>
<g id="n186" class="c"><rect x="715" y="465" width="28" height="17"/><text x="729" y="473.5">受付</text></g>
<g id="n187" class="c"><rect x="645" y="488" width="48" height="17"/><text x="669" y="496.5">市民活動</text></g>
<g id="n188" class="c"><rect x="767" y="495" width="28" height="17"/><text x="781" y="503.5">条例</text></g>
<g id="n189" class="g"><rect x="823" y="495" width="27" height="17"/><text x="836.5" y="503.5">市民</text></g>
<g id="n190" class="c"><rect x="868" y="493" width="19" height="17"/><text x="877.5" y="501.5">話</text></g>
<g id="n191" class="c"><rect x="647" y="510" width="28" height="17"/><text x="661" y="518.5">税務</text></g>
<g id="n192" class="c"><rect x="803" y="520" width="17" height="17"/><text x="811.5" y="528.5">人</text></g>
<g id="n193" class="c"><rect x="850" y="517" width="28" height="16"/><text x="864" y="525">近く</text></g>
<g id="n194" class="c"><rect x="615" y="533" width="47" height="17"/><text x="638.5" y="541.5">収益事業</text></g>
<g id="n195" class="c"><rect x="677" y="532" width="28" height="15"/><text x="691" y="539.5">収益</text></g>
</svg>
